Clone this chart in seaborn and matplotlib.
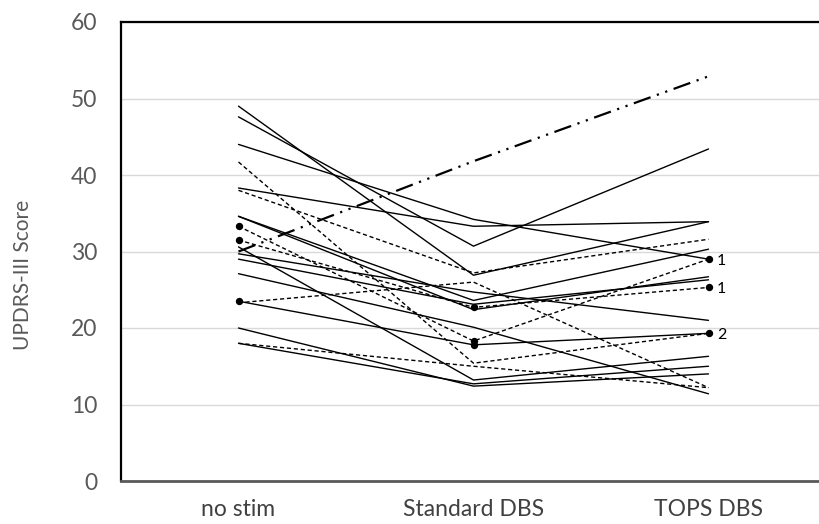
import matplotlib
matplotlib.use("Agg")
import matplotlib.pyplot as plt
import seaborn as sns
import pandas as pd

categories = ["no stim", "Standard DBS", "TOPS DBS"]
no_stim = [49.0, 47.6, 44.0, 38.3, 27.1, 23.5, 30.6, 20.0, 18.0, 34.6, 29.7, 34.6, 29.0,
           38.0, 31.5, 33.3, 23.3, 41.7, 18.0, 30.0]
standard_dbs = [26.9, 30.7, 34.2, 33.3, 20.1, 17.8, 13.2, 12.4, 12.7, 23.6, 24.7, 22.4, 23.1,
                27.2, 22.7, 18.3, 26.0, 15.4, 15.0, 41.8]
tops_dbs = [33.9, 43.4, 29.0, 33.9, 11.4, 19.3, 16.3, 14.0, 15.0, 30.3, 21.0, 26.7, 26.3,
            31.6, 25.3, 29.0, 12.2, 19.3, 12.2, 52.9]
line_style = ["solid"] * 13 + ["dashed"] * 6 + ["dashdot"]
marked_patients = [5, 14, 15]
marked_labels = ["2", "1", "1"]
y_ticks = [0, 10, 20, 30, 40, 50, 60]

rows = []
for pid, vals in enumerate(zip(no_stim, standard_dbs, tops_dbs)):
    for ci, v in enumerate(vals):
        rows.append({"pid": pid, "pos": ci, "score": v, "style": line_style[pid]})
df = pd.DataFrame(rows)

sns.set_style("white")
plt.rcParams["font.family"] = ["Lato", "DejaVu Sans"]

fig = plt.figure(figsize=(8.19, 5.24), dpi=100)
ax = fig.add_axes([121 / 819, 1 - 481 / 524, (826 - 121) / 819, (481 - 22) / 524])

ax.yaxis.grid(True, color="#d9d9d9", lw=1)
ax.set_axisbelow(True)

widths = {"solid": 1.0, "dashed": 1.0, "dashdot": 1.6}
dash_map = {"solid": (None, None), "dashed": (3, 2), "dashdot": (8, 3, 1, 3, 1, 3)}
for st in ["solid", "dashed", "dashdot"]:
    sub = df[df["style"] == st]
    for pid, g in sub.groupby("pid"):
        kw = {}
        if st != "solid":
            kw["dashes"] = dash_map[st]
        sns.lineplot(data=g, x="pos", y="score", color="black", lw=widths[st],
                     estimator=None, ax=ax, legend=False, **kw)

mk = df[df["pid"].isin(marked_patients)]
sns.scatterplot(data=mk, x="pos", y="score", color="black", s=28, edgecolor="black",
                linewidth=0, ax=ax, legend=False, zorder=5)
for pid, lab in zip(marked_patients, marked_labels):
    ax.annotate(lab, (2, tops_dbs[pid]), xytext=(6, -1), textcoords="offset points",
                va="center", ha="left", fontsize=11.5, color="black")

ax.set_xlim(-0.5, 2.5)
ax.set_ylim(0, 60)
ax.set_xticks(range(len(categories)))
ax.set_xticklabels(categories, fontsize=16.5, color="#404040")
ax.set_yticks(y_ticks)
ax.set_yticklabels([str(t) for t in y_ticks], fontsize=16.5, color="#595959")
ax.tick_params(axis="x", length=0, pad=13)
ax.tick_params(axis="y", length=0, pad=17)
ax.set_xlabel("")
ax.set_ylabel("UPDRS-III Score", fontsize=15, color="#595959")
ax.yaxis.set_label_coords((33 - 121) / 705, (481 - 275) / 459)

for side in ["left", "top"]:
    ax.spines[side].set_color("black")
    ax.spines[side].set_linewidth(1.6)
ax.spines["bottom"].set_color("#595959")
ax.spines["bottom"].set_linewidth(2.0)
ax.spines["right"].set_visible(False)

fig.savefig("out.png", dpi=100)
